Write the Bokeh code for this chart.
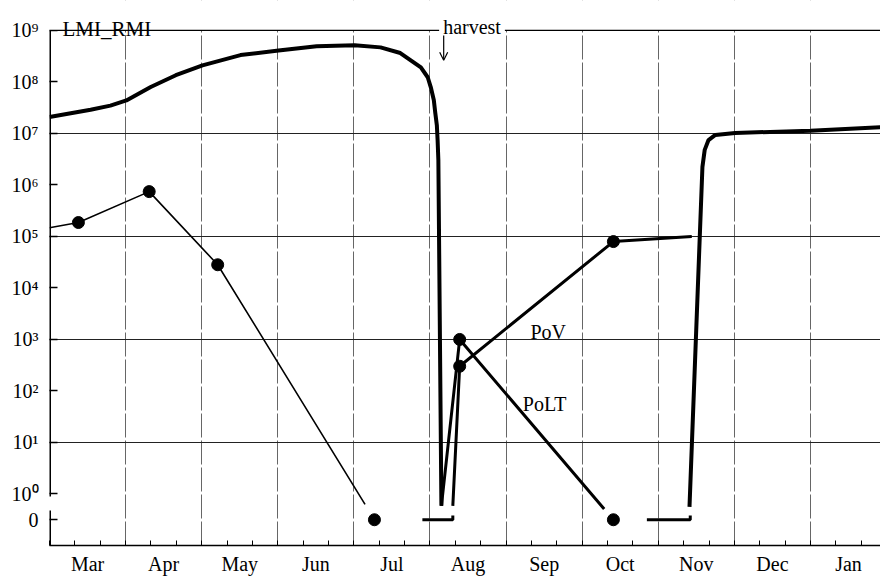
from bokeh.plotting import figure
from bokeh.models import (FixedTicker, Label, Arrow, OpenHead, Range1d, Span, BoxAnnotation,
                          CustomJSTickFormatter)
from bokeh.embed import file_html
from bokeh.resources import INLINE

FONT = "Liberation Serif"

# ---------------- data ----------------
MONTHS = ["Mar", "Apr", "May", "Jun", "Jul", "Aug", "Sep", "Oct", "Nov", "Dec", "Jan"]

# y values are log10(count); a count of 0 is drawn at ZERO_LEVEL
ZERO_LEVEL = -0.5
Y_TICKS = [-0.5, 0, 1, 2, 3, 4, 5, 6, 7, 8, 9]
Y_TICK_LABELS = ["0", "10⁰", "10¹", "10²", "10³", "10⁴", "10⁵", "10⁶", "10⁷", "10⁸", "10⁹"]
Y_GRID = [1, 3, 5, 7]
Y_BREAK = (-0.32, -0.05)   # gap in the y axis between 10^0 and 0

# x values are months since 1 March
LMI_X = [0.0, 0.54, 0.80, 1.01, 1.17, 1.33, 1.66, 2.01, 2.51, 3.01, 3.51, 4.01, 4.35,
         4.61, 4.88, 4.97, 5.01, 5.05, 5.07, 5.09, 5.10, 5.11, 5.15]
LMI_Y = [7.32, 7.46, 7.54, 7.64, 7.77, 7.90, 8.13, 8.32, 8.52, 8.61, 8.69, 8.71, 8.67,
         8.56, 8.28, 8.09, 7.90, 7.65, 7.39, 7.16, 6.87, 6.48, -0.23]

LMI_REGROWTH_X = [8.41, 8.58, 8.61, 8.66, 8.75, 9.01, 10.0, 10.92]
LMI_REGROWTH_Y = [-0.25, 6.35, 6.68, 6.87, 6.97, 7.01, 7.05, 7.12]

LMI_ZERO_START = [4.90, 7.85]
LMI_ZERO_END = [5.30, 8.42]

SPRING_X = [0.0, 0.38, 1.31, 2.21, 4.27]
SPRING_Y = [5.17, 5.27, 5.87, 4.45, ZERO_LEVEL]

POLT_X = [5.15, 5.39, 7.41]
POLT_Y = [-0.23, 3.0, ZERO_LEVEL]

POV_X = [5.30, 5.39, 7.41, 8.44]
POV_Y = [-0.23, 2.48, 4.90, 5.0]

HARVEST_X = 5.18

# ---------------- figure ----------------
X_MAX = 10.92
Y_MIN, Y_TOP = -1, 9.58
p = figure(width=880, height=577, x_range=Range1d(0, X_MAX), y_range=Range1d(Y_MIN, Y_TOP),
           output_backend="svg", toolbar_location=None,
           min_border_left=49, min_border_right=0, min_border_top=0, min_border_bottom=30)
p.outline_line_color = None
p.background_fill_color = "white"
p.border_fill_color = "white"

# x axis: month names at month centres, small inward ticks every third of a month
month_centres = [i + 0.5 for i in range(len(MONTHS))]
p.xaxis.ticker = FixedTicker(ticks=month_centres, minor_ticks=[k / 3 for k in range(0, 33)])
p.xaxis.formatter = CustomJSTickFormatter(
    args=dict(t=month_centres, l=MONTHS),
    code="const i = t.findIndex(v => Math.abs(v - tick) < 1e-6); return i >= 0 ? l[i] : '';")
p.xaxis.major_tick_in = 0
p.xaxis.major_tick_out = 0
p.xaxis.minor_tick_in = 5
p.xaxis.minor_tick_out = 0
p.xaxis.minor_tick_line_color = "black"
p.xaxis.axis_line_color = "black"
p.xaxis.axis_line_width = 1.5
p.xaxis.major_label_standoff = 7
p.xaxis.major_label_text_font = FONT
p.xaxis.major_label_text_font_size = "20px"
p.xaxis.major_label_text_color = "black"

# y axis
p.yaxis.ticker = FixedTicker(ticks=Y_TICKS)
p.yaxis.formatter = CustomJSTickFormatter(
    args=dict(t=Y_TICKS, l=Y_TICK_LABELS),
    code="const i = t.findIndex(v => Math.abs(v - tick) < 1e-6); return i >= 0 ? l[i] : '';")
p.yaxis.major_tick_in = 8
p.yaxis.major_tick_out = 0
p.yaxis.minor_tick_line_color = None
p.yaxis.axis_line_color = None
p.yaxis.major_tick_line_width = 1.5
p.yaxis.major_tick_line_color = "black"
p.yaxis.major_label_standoff = 11
p.yaxis.major_label_text_font = FONT
p.yaxis.major_label_text_font_size = "20px"
p.yaxis.major_label_text_color = "black"
p.yaxis.major_label_text_baseline = "alphabetic"

# grids
p.xgrid.ticker = FixedTicker(ticks=list(range(1, 11)))
p.xgrid.grid_line_color = "#666666"
p.xgrid.grid_line_width = 1
p.xgrid.grid_line_dash = "24 3"
p.ygrid.ticker = FixedTicker(ticks=Y_GRID)
p.ygrid.grid_line_color = "#222222"
p.ygrid.grid_line_width = 1

# left axis line, broken between 10^0 and 0
p.segment(x0=[0, 0], y0=[9, Y_BREAK[0]], x1=[0, 0], y1=[Y_BREAK[1], Y_MIN],
          line_color="black", line_width=3)

GAP = 0.94  # lines into the zero-level dots stop short of them


def short_end(xs, ys):
    lx = list(xs[:-1]) + [xs[-2] + GAP * (xs[-1] - xs[-2])]
    ly = list(ys[:-1]) + [ys[-2] + GAP * (ys[-1] - ys[-2])]
    return lx, ly


# spring series
sx, sy = short_end(SPRING_X, SPRING_Y)
p.line(sx, sy, line_color="black", line_width=1.6)
p.scatter(SPRING_X[1:], SPRING_Y[1:], size=12, color="black")

# LMI_RMI thick curve
p.line(LMI_X, LMI_Y, line_color="black", line_width=4, line_join="round")
p.line(LMI_REGROWTH_X, LMI_REGROWTH_Y, line_color="black", line_width=4, line_join="round")
for xs, xe in zip(LMI_ZERO_START, LMI_ZERO_END):
    p.line([xs, xe, xe], [ZERO_LEVEL, ZERO_LEVEL, ZERO_LEVEL + 0.08],
           line_color="black", line_width=3)

# PoLT
lx, ly = short_end(POLT_X, POLT_Y)
p.line(lx, ly, line_color="black", line_width=3)
p.scatter(POLT_X[1:], POLT_Y[1:], size=12, color="black")

# PoV
p.line(POV_X, POV_Y, line_color="black", line_width=3)
p.scatter(POV_X[1:3], POV_Y[1:3], size=12, color="black")

# blank band above the top line (grid lines stop at 10^9)
p.add_layout(BoxAnnotation(bottom=9, fill_color="white", fill_alpha=1.0, line_color=None))
p.add_layout(Span(location=9, dimension="width", line_color="black", line_width=1.2))

# annotations
p.add_layout(Label(x=0, y=9, x_offset=13, y_offset=1, text="LMI_RMI", text_font=FONT,
                   text_font_size="21px", text_baseline="alphabetic", text_color="black"))
p.add_layout(Label(x=HARVEST_X - 0.06, y=9, y_offset=3, text="harvest", text_font=FONT,
                   text_font_size="20px", text_baseline="alphabetic", text_color="black",
                   background_fill_color="white", background_fill_alpha=1.0, padding=4))
p.add_layout(Arrow(end=OpenHead(size=8, line_width=1.2, line_color="black"),
                   x_start=HARVEST_X, y_start=8.9, x_end=HARVEST_X, y_end=8.42,
                   line_width=1.2, line_color="black"))
p.add_layout(Label(x=6.32, y=3.14, text="PoV", text_font=FONT, text_font_size="20px",
                   text_baseline="alphabetic", text_color="black"))
p.add_layout(Label(x=6.22, y=1.75, text="PoLT", text_font=FONT, text_font_size="20px",
                   text_baseline="alphabetic", text_color="black"))

open("out.html", "w").write(file_html(p, INLINE))
